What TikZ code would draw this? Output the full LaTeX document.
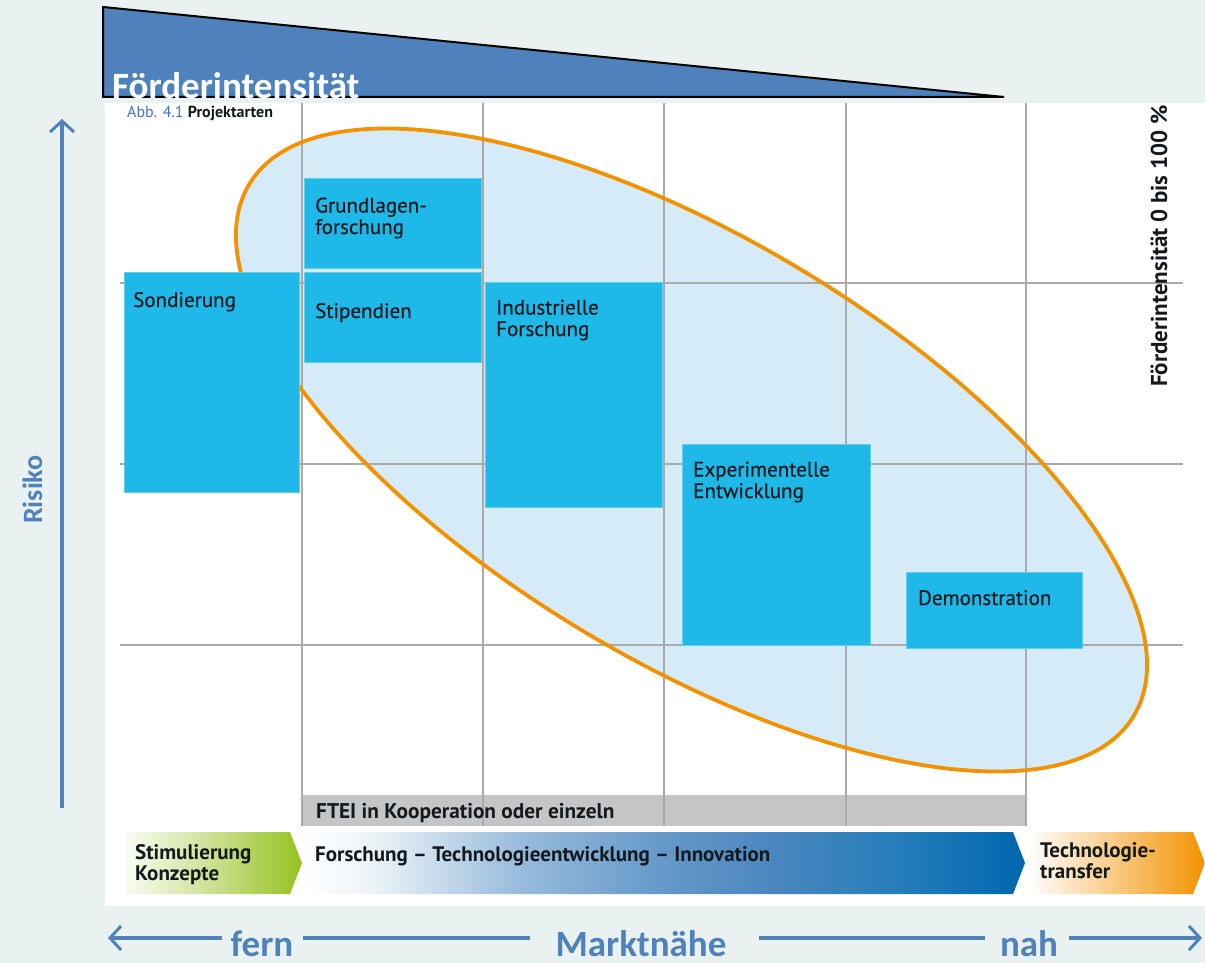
\documentclass[tikz,border=0pt]{standalone}
\usepackage{fontspec}
\setmainfont{PT Sans}
\newfontfamily\calib{Carlito}
\newfontfamily\dinmed[FakeBold=0.4]{PT Sans}
\usetikzlibrary{arrows.meta}
\definecolor{bgc}{RGB}{234,242,241}
\definecolor{tri}{RGB}{79,129,189}
\definecolor{cyanbox}{RGB}{30,185,232}
\definecolor{ellfill}{RGB}{213,235,248}
\definecolor{orng}{RGB}{243,146,0}
\definecolor{gridc}{RGB}{170,170,170}
\definecolor{barc}{RGB}{196,197,199}
\definecolor{axisblue}{RGB}{79,129,189}
\definecolor{abbblue}{RGB}{70,115,185}
\definecolor{grn}{RGB}{149,193,31}
\definecolor{dkblue}{RGB}{0,103,175}
\definecolor{txt}{RGB}{20,25,30}
\pgfdeclarehorizontalshading{bluesh}{100bp}{color(0bp)=(white); color(25bp)=(white); color(30bp)=(white!92!dkblue); color(40bp)=(white!72!dkblue!70!tri); color(50bp)=(white!48!dkblue!50!tri); color(58bp)=(white!25!dkblue!40!tri); color(66bp)=(dkblue!85!white); color(75bp)=(dkblue); color(100bp)=(dkblue)}
\pgfdeclarehorizontalshading{greensh}{100bp}{color(0bp)=(white); color(25bp)=(white!95!grn); color(45bp)=(white!60!grn); color(65bp)=(white!20!grn); color(75bp)=(grn); color(100bp)=(grn)}
\begin{document}
\begin{tikzpicture}[x=1pt,y=-1pt,
  gridl/.style={draw=gridc, line width=2pt},
  pbox/.style={fill=cyanbox, draw=cyanbox!70!white, line width=0.8pt},
  lbl/.style={anchor=base west, inner sep=0pt, align=left, text=txt, font=\dinmed\fontsize{21}{21.5}\selectfont},
  bandlbl/.style={anchor=base west, inner sep=0pt, align=left, text=txt, font=\bfseries\fontsize{21}{18.5}\selectfont},
  ax/.style={draw=axisblue, line width=3.2pt},
  barb/.tip={Straight Barb[length=11pt,width=24pt,line width=3pt]},
  axlbl/.style={anchor=base, inner sep=0pt, text=axisblue, font=\calib\bfseries\fontsize{37}{38}\selectfont}
]
\useasboundingbox (0,0) rectangle (1205,963);
\fill[bgc] (0,0) rectangle (1205,963);
\fill[white] (105,103) rectangle (1205,906);
% triangle
\draw[fill=tri, line width=2pt, line join=miter] (103,7) -- (1004,97) -- (103,97) -- cycle;
\node[anchor=base west, inner sep=0pt, text=white, font=\calib\bfseries\fontsize{37}{40}\selectfont] (title) at (112,99) {Förderintensität};
% ellipse fill
\fill[ellfill, rotate around={-31:(691.5,450)}] (691.5,450) ellipse [x radius=516, y radius=211];
% grey bar
\fill[barc] (302,795) rectangle (1026,826);
% grid
\foreach \gx in {302,483,664,846,1026} \draw[gridl] (\gx,103) -- (\gx,826);
\foreach \gy in {283,464,645} \draw[gridl] (120,\gy) -- (1183,\gy);
% ellipse outline
\draw[orng, line width=3.8pt, rotate around={-31:(691.5,450)}] (691.5,450) ellipse [x radius=516, y radius=211];
% boxes
\path[pbox] (124,272) rectangle (299,492);
\path[pbox] (304,178) rectangle (481,268);
\path[pbox] (304,272) rectangle (481,362);
\path[pbox] (485,282) rectangle (662,507);
\path[pbox] (682,444) rectangle (870,645);
\path[pbox] (906,572) rectangle (1082,648);
\node[lbl] (tsond) at (133,307) {Sondierung};
\node[lbl] (tgrund) at (315,234) {Grundlagen-\\forschung};
\node[lbl] (tstip) at (315,318) {Stipendien};
\node[lbl] (tind) at (496,336) {Industrielle\\Forschung};
\node[lbl] (texp) at (693,498) {Experimentelle\\Entwicklung};
\node[lbl] (tdemo) at (918,605) {Demonstration};
% caption
\node[anchor=base west, inner sep=0pt, font=\fontsize{16}{18}\selectfont] (abb) at (127,118) {\textcolor{abbblue}{Abb. 4.1} \textcolor{txt}{\textbf{Projektarten}}};
% right rotated text
\node[rotate=90, anchor=base west, inner sep=0pt, text=txt, font=\bfseries\fontsize{23}{25}\selectfont] (fint) at (1167,387) {Förderintensität 0 bis 100~\%};
% FTEI
\node[anchor=base west, inner sep=0pt, text=txt, font=\bfseries\fontsize{21.3}{22}\selectfont] (ftei) at (316,818) {FTEI in Kooperation oder einzeln};
% chevrons
\shade[shading=greensh] (125,832) -- (290,832) -- (302,863) -- (290,894) -- (125,894) -- cycle;
\shade[shading=bluesh] (303,832) -- (1013,832) -- (1025,863) -- (1013,894) -- (303,894) -- cycle;
\shade[left color=white, right color=orng] (1028,832) -- (1193,832) -- (1205,863) -- (1193,894) -- (1028,894) -- cycle;
\node[bandlbl] (stim) at (135,880) {Stimulierung\\Konzepte};
\node[bandlbl] (fti) at (315,861) {Forschung – Technologieentwicklung – Innovation};
\node[bandlbl] (ttr) at (1040,878) {Technologie-\\transfer};
% Risiko axis
\coordinate (rbot) at (62,808);
\coordinate (rtop) at (62,119);
\draw[ax, -{barb}] (rbot) -- (rtop);
\node[rotate=90, anchor=base west, inner sep=0pt, text=axisblue, font=\calib\bfseries\fontsize{28}{30}\selectfont] (risk) at (42,524) {Risiko};
% Marktnaehe axis
\node[axlbl] (fern) at (262,956) {fern};
\node[axlbl] (markt) at (641,956) {Marktnähe};
\node[axlbl] (nah) at (1029,956) {nah};
\coordinate (ltip) at (108,938);
\coordinate (rtip) at (1202,938);
\draw[ax, {barb}-] (ltip) -- ([xshift=-8pt]fern.west |- ltip);
\draw[ax] ([xshift=9pt]fern.east |- ltip) -- ([xshift=-25pt]markt.west |- ltip);
\draw[ax] ([xshift=32pt]markt.east |- ltip) -- ([xshift=-15pt]nah.west |- ltip);
\draw[ax, -{barb}] ([xshift=11pt]nah.east |- ltip) -- (rtip);
\end{tikzpicture}
\end{document}
